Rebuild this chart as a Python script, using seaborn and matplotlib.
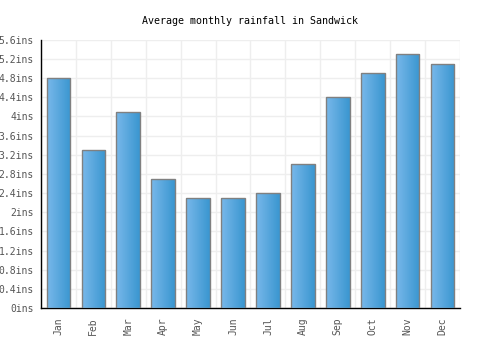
import numpy as np
import pandas as pd
import matplotlib
matplotlib.use('Agg')
import matplotlib.pyplot as plt
import seaborn as sns
from matplotlib.colors import LinearSegmentedColormap
from matplotlib.ticker import MultipleLocator

months = ['Jan', 'Feb', 'Mar', 'Apr', 'May', 'Jun', 'Jul', 'Aug', 'Sep', 'Oct', 'Nov', 'Dec']
rainfall = [4.8, 3.3, 4.1, 2.7, 2.3, 2.3, 2.4, 3.0, 4.4, 4.9, 5.3, 5.1]
title = 'Average monthly rainfall in Sandwick'

sns.set_style('white')
plt.rcParams['font.family'] = ['DejaVu Sans Mono']

df = pd.DataFrame({'Month': months, 'Rainfall': rainfall})

fig = plt.figure(figsize=(5, 3.5), dpi=100)
ax = fig.add_axes([0.082, 0.12, 0.838, 0.766])
sns.barplot(data=df, x='Month', y='Rainfall', ax=ax, width=0.68,
            color='#4fa3dc', edgecolor='#808080', linewidth=1, zorder=3)

# horizontal gradient fill on each bar
cmap = LinearSegmentedColormap.from_list('bar', ['#78b8ea', '#3a96d0'])
grad = np.linspace(0, 1, 64).reshape(1, -1)
for p in ax.patches:
    x0, y0 = p.get_x(), p.get_y()
    w, h = p.get_width(), p.get_height()
    im = ax.imshow(grad, cmap=cmap, aspect='auto', extent=[x0, x0 + w, y0, y0 + h],
                   zorder=3.5, interpolation='bicubic')
    im.set_clip_path(p)
    p.set_facecolor('none')
    p.set_zorder(4)

ax.set_xlim(-0.5, len(months) - 0.5)
ax.set_ylim(0, 5.6)
ax.yaxis.set_major_locator(MultipleLocator(0.4))
ax.set_yticklabels([f'{v:g}ins' for v in ax.get_yticks()])
ax.set_xticks(np.arange(len(months)) - 0.5, minor=True)
ax.grid(True, which='major', axis='y', color='#eeeeee', linewidth=1, zorder=0)
ax.grid(True, which='minor', axis='x', color='#eeeeee', linewidth=1, zorder=0)
ax.axvline(len(months) - 0.5, color='#eeeeee', linewidth=1, zorder=0)

for s in ['top', 'right']:
    ax.spines[s].set_visible(False)
for s in ['left', 'bottom']:
    ax.spines[s].set_color('black')
    ax.spines[s].set_linewidth(1)

ax.tick_params(axis='both', which='both', length=0, labelsize=7, colors='#555555')
ax.tick_params(axis='x', rotation=90, pad=7)
ax.tick_params(axis='y', pad=5)
ax.set_xlabel('')
ax.set_ylabel('')
fig.text(0.5, 0.94, title, ha='center', va='center', fontsize=7.2, color='black')

fig.savefig('out.png', dpi=100)
